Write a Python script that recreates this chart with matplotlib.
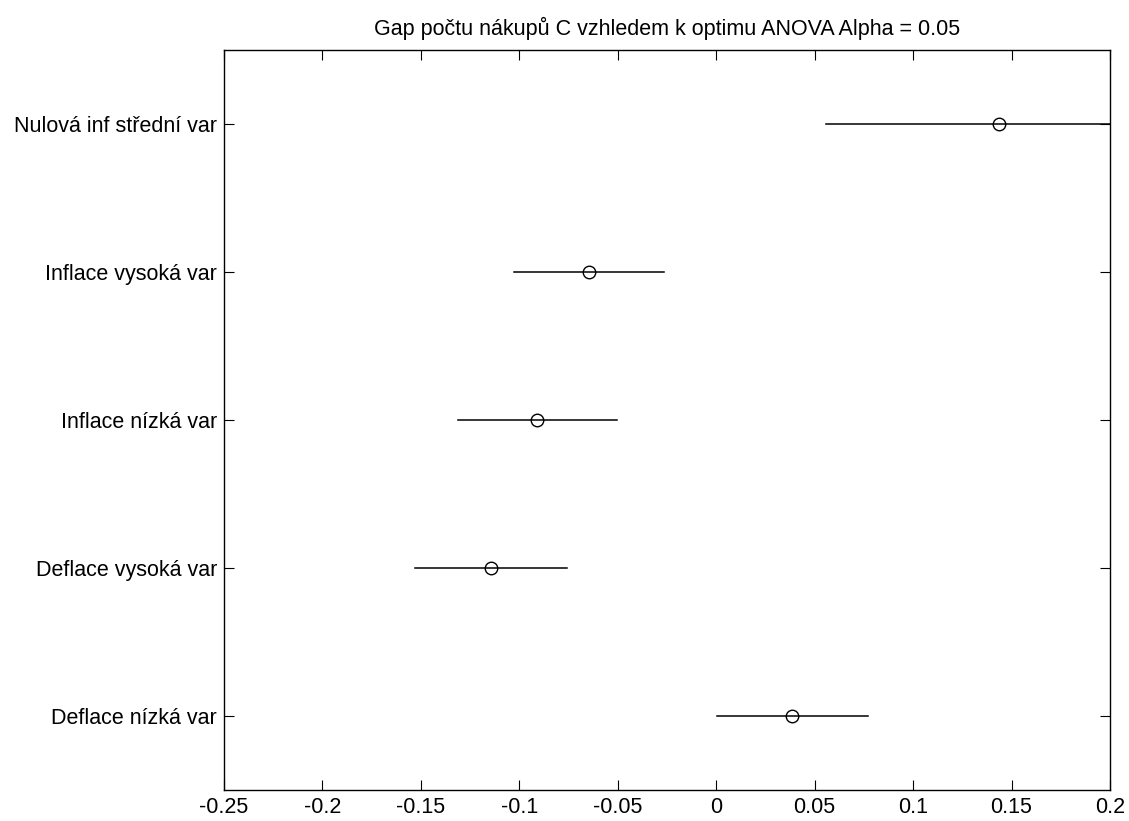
import matplotlib
matplotlib.use("Agg")
import matplotlib.pyplot as plt

categories = ["Deflace nízká var", "Deflace vysoká var", "Inflace nízká var",
              "Inflace vysoká var", "Nulová inf střední var"]
means = [0.0386, -0.1143, -0.0909, -0.0645, 0.1437]
lower = [0.0003, -0.1529, -0.1313, -0.1025, 0.0559]
upper = [0.0769, -0.0757, -0.0505, -0.0265, 0.2315]
xticks = [-0.25, -0.2, -0.15, -0.1, -0.05, 0, 0.05, 0.1, 0.15, 0.2]
xticklabels = ["-0.25", "-0.2", "-0.15", "-0.1", "-0.05", "0", "0.05", "0.1", "0.15", "0.2"]
title = "Gap počtu nákupů C vzhledem k optimu ANOVA Alpha = 0.05"

plt.rcParams['font.family'] = ['Liberation Sans', 'DejaVu Sans']

fig = plt.figure(figsize=(11.29, 8.21), dpi=100)
ax = fig.add_axes([224/1129, 31/821, 886/1129, 740/821])

ys = list(range(1, len(categories) + 1))
for y, m, lo, hi in zip(ys, means, lower, upper):
    ax.plot([lo, hi], [y, y], color='black', lw=1.1)
    ax.plot([m], [y], marker='o', mfc='none', mec='black', ms=9, mew=1.0, ls='none')

ax.set_xlim(-0.25, 0.2)
ax.set_ylim(0.5, len(categories) + 0.5)
ax.set_xticks(xticks)
ax.set_xticklabels(xticklabels)
ax.set_yticks(ys)
ax.set_yticklabels(categories)
ax.tick_params(axis='both', direction='in', length=7, width=0.8, labelsize=15.5,
               top=True, right=True, pad=5, colors='black')
for s in ax.spines.values():
    s.set_linewidth(1.0)
ax.set_title(title, fontsize=15.5, pad=11)

fig.savefig("out.png", dpi=100)
